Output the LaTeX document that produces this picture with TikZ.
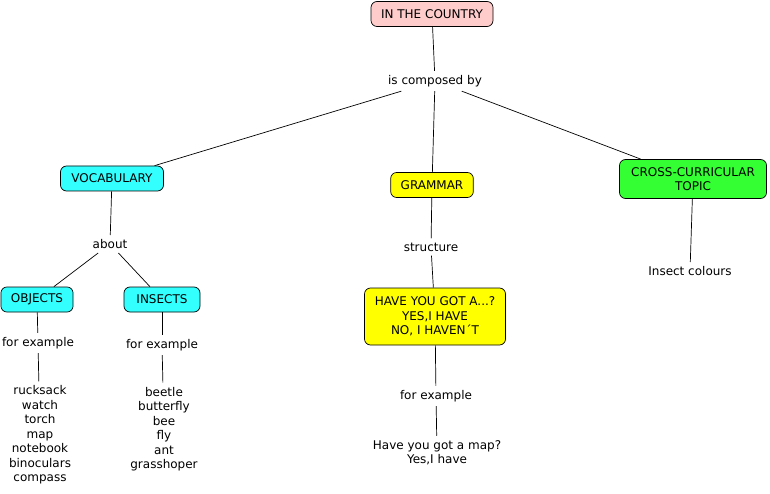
\documentclass[tikz,border=0pt]{standalone}
\usepackage{fontspec}
\setmainfont{DejaVu Sans}
\definecolor{pinkbox}{HTML}{FFCCCC}
\definecolor{cyanbox}{HTML}{33FFFF}
\definecolor{yellowbox}{HTML}{FFFF00}
\definecolor{greenbox}{HTML}{33FF33}
\begin{document}
\begin{tikzpicture}[x=1pt, y=-1pt, font=\fontsize{12}{14.5}\selectfont,
  concept/.style={draw, rectangle, rounded corners=6pt, inner xsep=10pt, minimum height=25pt, align=center},
  link/.style={inner sep=4pt, align=center},
  every path/.style={line width=0.7pt}]
\useasboundingbox (0,0) rectangle (770,494);
\node[concept, fill=pinkbox, minimum width=122pt] (country) at (432,14) {IN THE COUNTRY};
\node[link] (composed) at (435,81) {is composed by};
\node[concept, fill=cyanbox, minimum width=103pt] (vocab) at (112,178.5) {VOCABULARY};
\node[concept, fill=yellowbox, minimum width=79pt] (grammar) at (432,185) {GRAMMAR};
\node[concept, fill=greenbox, minimum width=147pt, minimum height=39pt] (cross) at (693,179) {CROSS-CURRICULAR\\TOPIC};
\node[link] (about) at (110,244) {about};
\node[concept, fill=cyanbox, minimum width=71pt] (objects) at (37,299.5) {OBJECTS};
\node[concept, fill=cyanbox, minimum width=76pt] (insects) at (162,299.5) {INSECTS};
\node[link] (objex) at (38,343) {for example};
\node[link] (insex) at (162,345) {for example};
\node[link] (objlist) at (40,435) {rucksack\\watch\\torch\\map\\notebook\\binoculars\\compass};
\node[link] (inslist) at (164,429) {beetle\\butterfly\\bee\\fly\\ant\\grasshoper};
\node[link] (structure) at (431,247) {structure};
\node[concept, fill=yellowbox, minimum width=141pt, minimum height=57pt] (question) at (435,316.5) {HAVE YOU GOT A...?\\YES,I HAVE\\NO, I HAVEN´T};
\node[link] (gramex) at (436,396) {for example};
\node[link] (answer) at (437,452.5) {Have you got a map?\\Yes,I have};
\node[link] (colours) at (690,271) {Insect colours};

\draw (country) -- (composed);
\draw (composed) -- (vocab);
\draw (composed) -- (grammar);
\draw (composed) -- (cross);
\draw (vocab) -- (about);
\draw (about) -- (objects);
\draw (about) -- (insects);
\draw (objects) -- (objex);
\draw (objex) -- (objlist);
\draw (insects) -- (insex);
\draw (insex) -- (inslist);
\draw (grammar) -- (structure);
\draw (structure) -- (question);
\draw (question) -- (gramex);
\draw (gramex) -- (answer);
\draw (cross) -- (colours);
\end{tikzpicture}
\end{document}
